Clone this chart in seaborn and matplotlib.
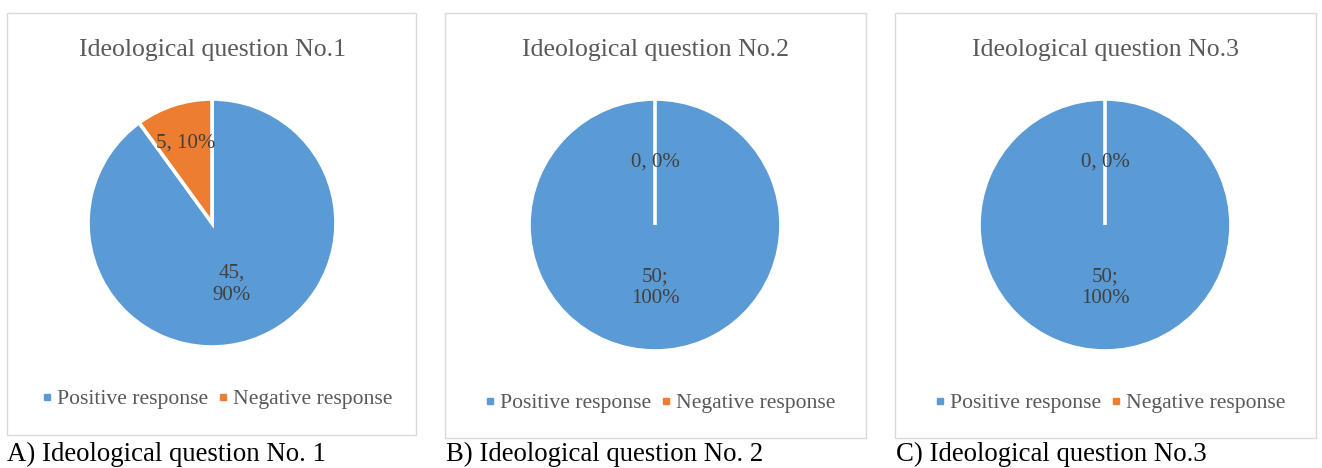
import numpy as np
import matplotlib
matplotlib.use("Agg")
import matplotlib.pyplot as plt
from matplotlib.patches import Rectangle
from matplotlib.lines import Line2D
import seaborn as sns

# ---- data -------------------------------------------------------------
categories = ["Positive response", "Negative response"]
panel_titles = ["Ideological question No.1", "Ideological question No.2", "Ideological question No.3"]
captions = ["A) Ideological question No. 1", "B) Ideological question No. 2", "C) Ideological question No.3"]
q1_counts = [45, 5]
q2_counts = [50, 0]
q3_counts = [50, 0]
q1_seps = [",\n", ", "]
q2_seps = [";\n", ", "]
q3_seps = [";\n", ", "]

# ---- style ------------------------------------------------------------
sns.set_theme(style="white")
plt.rcParams["font.family"] = ["Liberation Serif", "DejaVu Serif"]
colors = ["#5B9BD5", "#ED7D31"]
text_gray = "#595959"
label_gray = "#404040"

W, H = 1322, 468
fig = plt.figure(figsize=(W / 100, H / 100), dpi=100)
fig.patch.set_facecolor("white")


def fx(x):
    return x / W


def fy(y):
    return 1 - y / H


# panel layout in pixels: box, pie centre/radius, title, legend, caption
panels = [
    dict(counts=q1_counts, seps=q1_seps, box=(7, 13, 416, 435), c=(212, 223), r=124,
         dist=[0.52, 0.68], leg_x=217, leg_y=399, cap_x=7),
    dict(counts=q2_counts, seps=q2_seps, box=(445, 13, 866, 438), c=(655, 225), r=126,
         dist=[0.5, 0.5], leg_x=660, leg_y=403, cap_x=446),
    dict(counts=q3_counts, seps=q3_seps, box=(895, 13, 1316, 438), c=(1105, 225), r=126,
         dist=[0.5, 0.5], leg_x=1110, leg_y=403, cap_x=896),
]

for i, p in enumerate(panels):
    x0, y0, x1, y1 = p["box"]
    fig.patches.append(Rectangle((fx(x0), fy(y1)), fx(x1 - x0), (y1 - y0) / H,
                                 transform=fig.transFigure, fill=False,
                                 edgecolor="#D9D9D9", linewidth=1.0))
    cx, cy = p["c"]
    r = p["r"]
    ax = fig.add_axes([fx(cx - r), fy(cy + r), 2 * r / W, 2 * r / H])
    vals = np.array(p["counts"], dtype=float)
    wedges, _ = ax.pie(vals, colors=colors, startangle=90, counterclock=False,
                       wedgeprops=dict(edgecolor="white", linewidth=2.6))
    ax.set_xlim(-1, 1)
    ax.set_ylim(-1, 1)
    ax.set_aspect("equal")
    ax.axis("off")

    total = vals.sum()
    for w, v, sep, d in zip(wedges, vals, p["seps"], p["dist"]):
        mid = np.deg2rad((w.theta1 + w.theta2) / 2)
        pct = 100 * v / total
        ax.text(d * np.cos(mid), d * np.sin(mid), f"{int(v)}{sep}{pct:.0f}%",
                ha="center", va="center", fontsize=15, color=label_gray,
                linespacing=1.2)

    # chart title
    fig.text(fx(cx), fy(50), panel_titles[i], ha="center", va="center",
             fontsize=18.5, color=text_gray)

    # legend
    handles = [Line2D([], [], linestyle="none", marker="s", markersize=5,
                      markerfacecolor=c, markeredgecolor=c) for c in colors]
    fig.legend(handles, categories, loc="center",
               bbox_to_anchor=(fx(p["leg_x"]), fy(p["leg_y"])),
               ncol=2, frameon=False, fontsize=15.6, labelcolor=text_gray,
               handlelength=0.45, handletextpad=0.25, columnspacing=0.45,
               borderpad=0, borderaxespad=0)

    # caption under the box
    fig.text(fx(p["cap_x"]), fy(461), captions[i], ha="left", va="baseline",
             fontsize=19.3, color="black")

fig.savefig("out.png", dpi=100, facecolor="white")
